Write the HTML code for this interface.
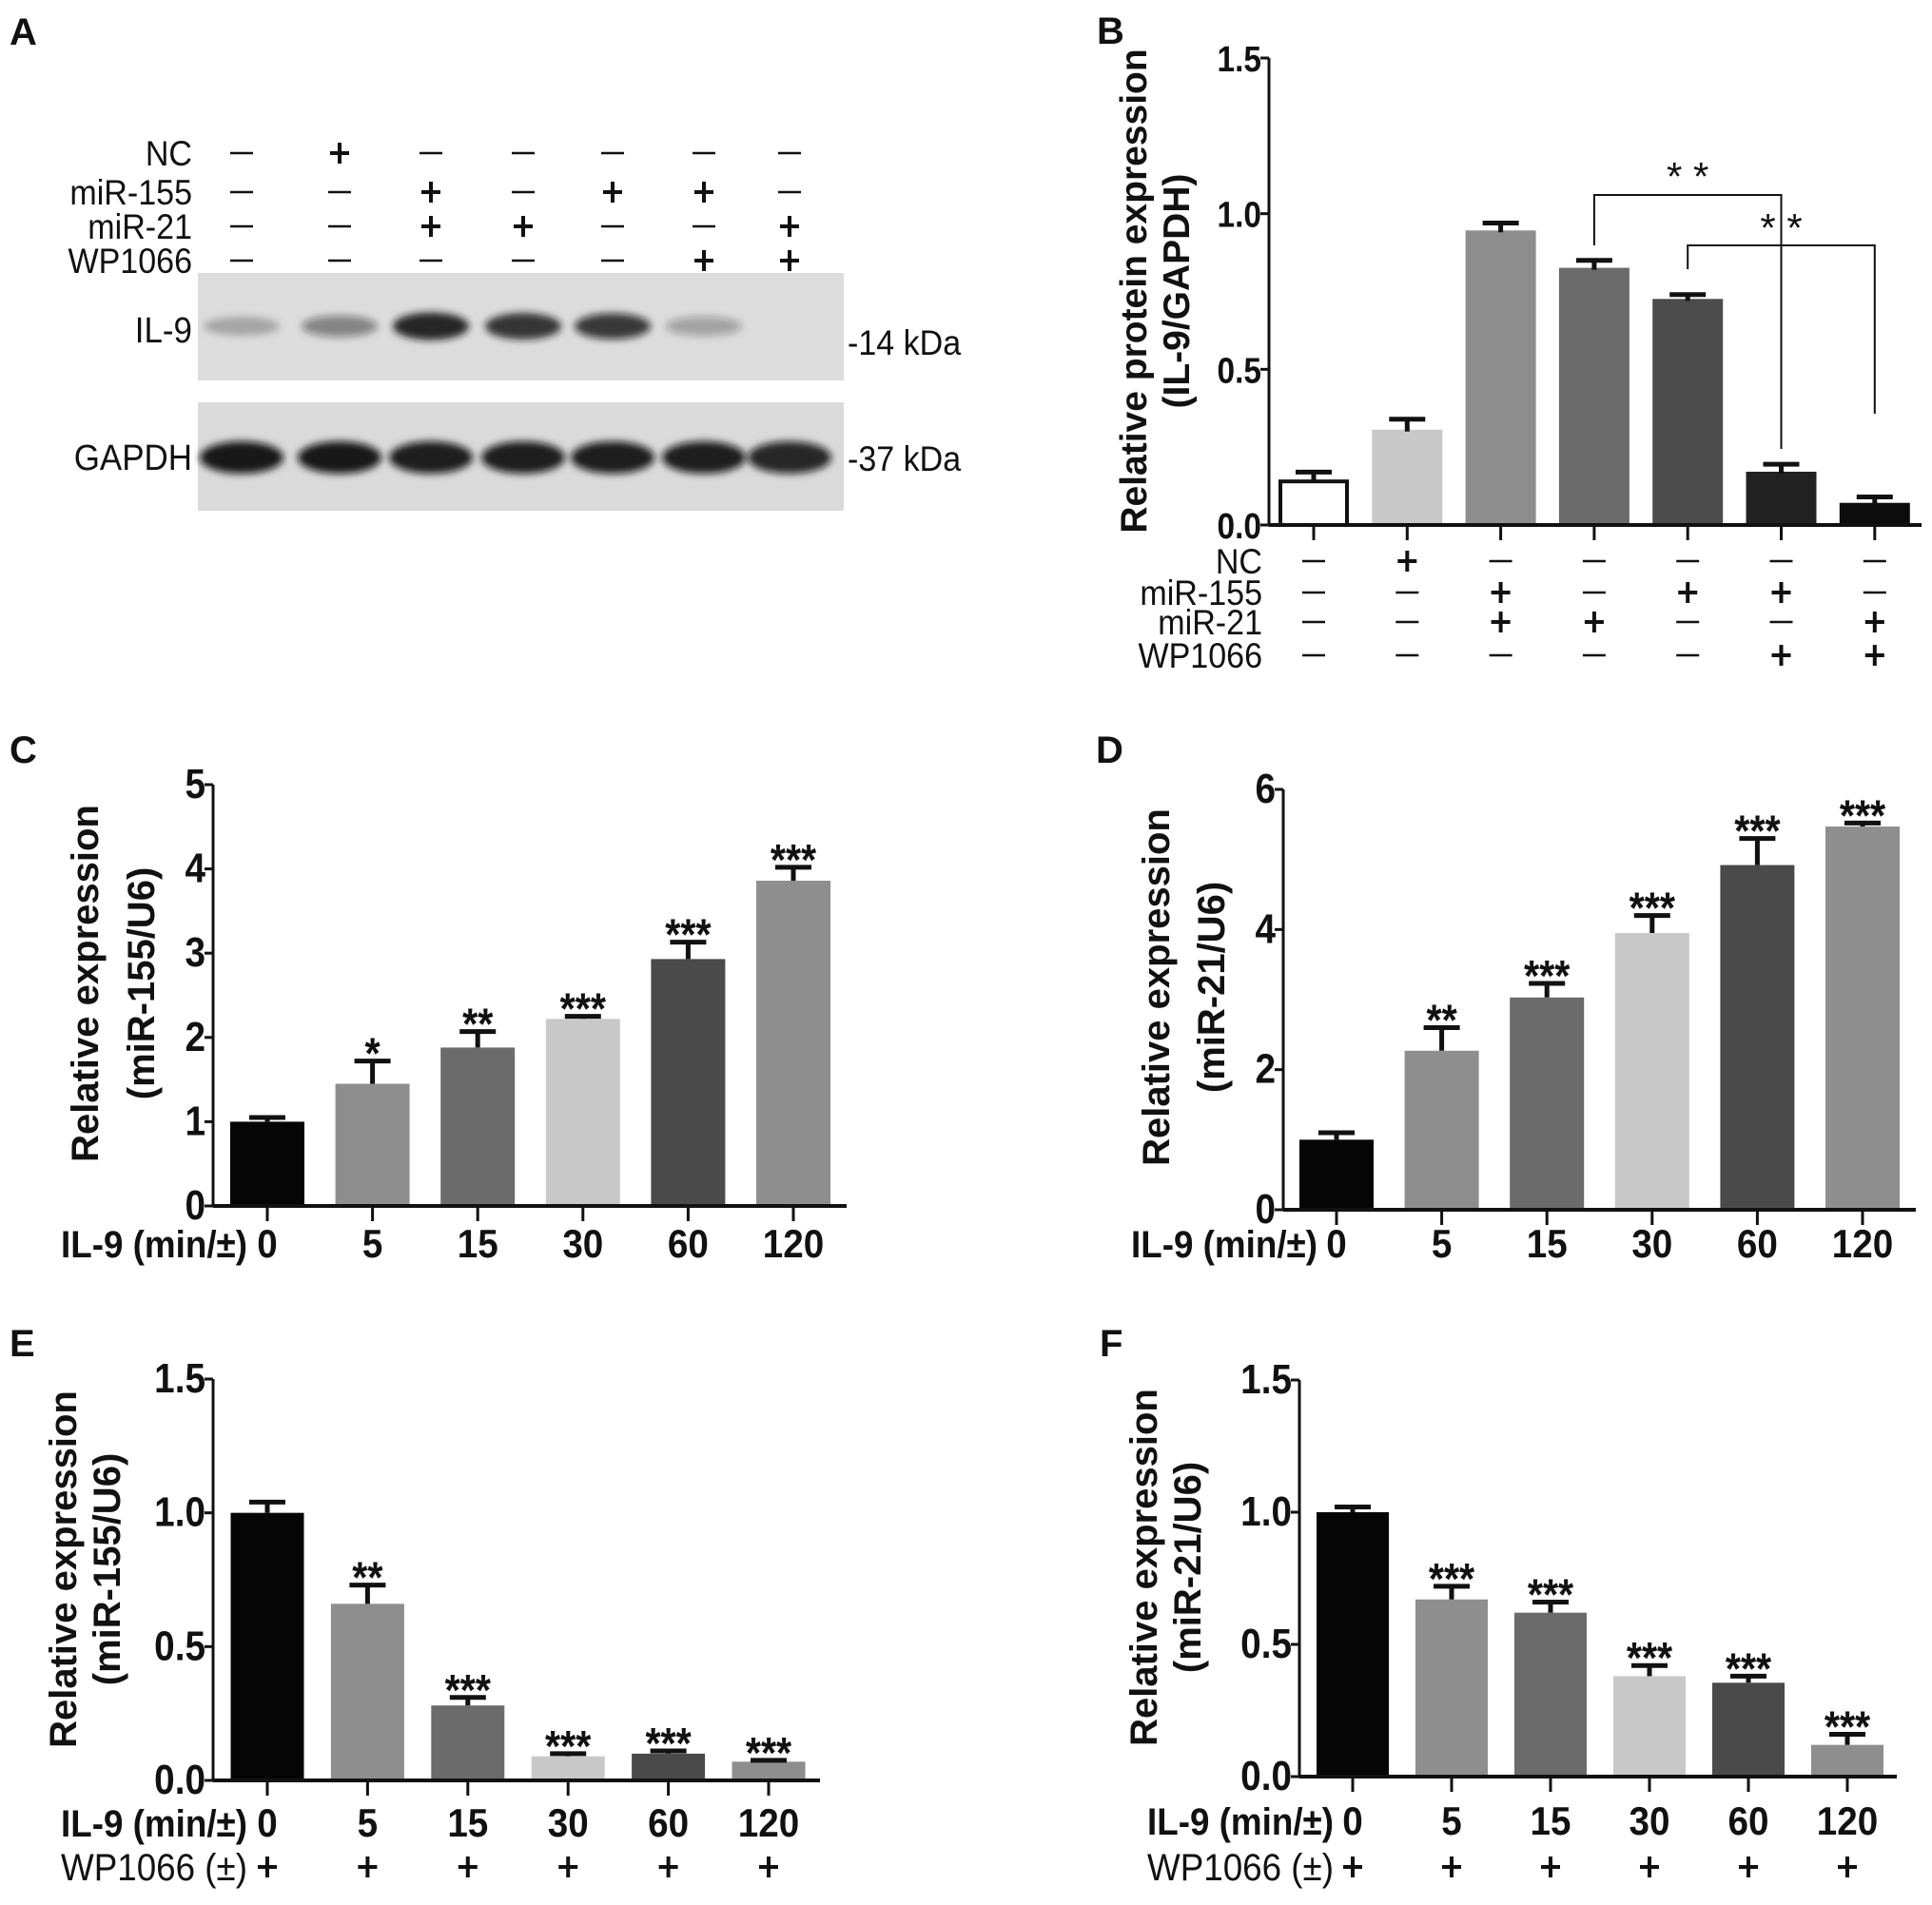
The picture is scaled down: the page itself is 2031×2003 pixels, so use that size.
<!DOCTYPE html>
<html><head><meta charset="utf-8"><style>
html,body{margin:0;padding:0;background:#fff;}
svg{display:block;}
text{font-family:"Liberation Sans",Arial,sans-serif;fill:#111;}
</style></head><body>
<svg id="fig" width="2031" height="2003" viewBox="0 0 2031 2003" xmlns="http://www.w3.org/2000/svg">
<defs><filter id="blur" x="-30%" y="-60%" width="160%" height="220%"><feGaussianBlur stdDeviation="4"/></filter></defs>
</svg>
<script>
// ---------- data ----------
const laneConds = ["NC","miR-155","miR-21","WP1066"];
const condNC     = ["-","+","-","-","-","-","-"];
const condM155   = ["-","-","+","-","+","+","-"];
const condM21    = ["-","-","+","+","-","-","+"];
const condWP     = ["-","-","-","-","-","+","+"];
const il9Band    = [0.25,0.45,0.92,0.85,0.8,0.3,0];
const gapdhBand  = [0.95,0.95,0.92,0.92,0.92,0.92,0.88];

const bValues = [0.14,0.30,0.94,0.82,0.72,0.165,0.065];
const bErr    = [0.03,0.04,0.03,0.03,0.02,0.03,0.025];
const bTicks  = [0,0.5,1.0,1.5];
const bTickLabels = ["0.0","0.5","1.0","1.5"];

const timeCats = ["0","5","15","30","60","120"];
const cValues = [1.0,1.45,1.88,2.22,2.93,3.86];
const cErr    = [0.05,0.27,0.19,0.03,0.2,0.16];
const cStars  = ["","*","**","***","***","***"];
const cTicks  = [0,1,2,3,4,5];
const cTickLabels = ["0","1","2","3","4","5"];

const dValues = [1.0,2.27,3.03,3.95,4.92,5.47];
const dErr    = [0.1,0.33,0.2,0.25,0.38,0.05];
const dStars  = ["","**","***","***","***","***"];
const dTicks  = [0,2,4,6];
const dTickLabels = ["0","2","4","6"];

const eValues = [1.0,0.66,0.28,0.09,0.10,0.07];
const eErr    = [0.04,0.07,0.03,0.01,0.01,0.005];
const eStars  = ["","**","***","***","***","***"];
const fValues = [1.0,0.67,0.62,0.38,0.355,0.12];
const fErr    = [0.02,0.05,0.04,0.04,0.025,0.04];
const fStars  = ["","***","***","***","***","***"];
const efTicks = [0,0.5,1.0,1.5];
const efTickLabels = ["0.0","0.5","1.0","1.5"];

const NS = "http://www.w3.org/2000/svg";
const svg = document.getElementById('fig');
function el(tag, attrs, parent){ const e=document.createElementNS(NS,tag); for(const k in attrs) e.setAttribute(k,attrs[k]); (parent||svg).appendChild(e); return e; }
function txt(x,y,s,size,anchor,parent,opts){
  opts=opts||{};
  const sx = opts.sx||0.9;
  const t = el('text',{transform:`translate(${x},${y}) scale(${sx},1)`,'font-size':size,'font-weight':opts.weight||'bold','text-anchor':anchor||'start'},parent);
  t.textContent=s; return t;
}
function sign(x,y,s,parent){
  if(s==="+"){ el('line',{x1:x-10,y1:y,x2:x+10,y2:y,stroke:'#111','stroke-width':4},parent); el('line',{x1:x,y1:y-11,x2:x,y2:y+11,stroke:'#111','stroke-width':4},parent); }
  else { el('line',{x1:x-12,y1:y,x2:x+12,y2:y,stroke:'#111','stroke-width':2.5},parent); }
}

// ---------- Panel A ----------
const gA = el('g',{});  
const la = txt(10,47,"A",40,'start',gA,{sx:1});  
const laneX = [254,357,453,550,644,740,830];
const rowY = [161,202,238,274];
const conds = [condNC,condM155,condM21,condWP];
conds.forEach((arr,r)=>{
  const lt = txt(202,rowY[r]+13,laneConds[r],37,'end',gA,{weight:'normal',sx:0.92});
   
  arr.forEach((s,i)=>sign(laneX[i],rowY[r],s,gA));
});
el('rect',{x:208,y:287,width:679,height:113,fill:'#dcdcdc'},gA);
el('rect',{x:208,y:423,width:679,height:114,fill:'#dadada'},gA);
txt(202,360,"IL-9",38,'end',gA,{weight:'normal',sx:0.92});
txt(202,494,"GAPDH",38,'end',gA,{weight:'normal',sx:0.92});
txt(891,373,"-14 kDa",37,'start',gA,{weight:'normal',sx:0.92});
txt(891,495,"-37 kDa",37,'start',gA,{weight:'normal',sx:0.92});
laneX.forEach((x,i)=>{
  const v=il9Band[i]; if(v>0){ const b=el('ellipse',{cx:x,cy:343,rx:40,ry:8+7*v,fill:`rgba(20,20,20,${v})`,filter:'url(#blur)'},gA);   }
  const g=gapdhBand[i]; const b2=el('ellipse',{cx:x,cy:481,rx:44,ry:17,fill:`rgba(15,15,15,${g})`,filter:'url(#blur)'},gA);
   
});

// ---------- Bar chart helper ----------
function barChart(c){
  const g = el('g',{});  
  const ymax = c.ticks[c.ticks.length-1];
  const Y = v => c.y0 - (v/ymax)*(c.y0-c.ytop);
  const X = i => c.x1 + c.firstOffset + i*c.step;
  const pl = txt(c.label[0],c.label[1],c.label[2],40,'start',g,{sx:1});  
  c.values.forEach((v,i)=>{
    const x=X(i), top=Y(v);
    const col=c.colors[i];
    const b=el('rect',{x:x-c.bw/2,y:top,width:c.bw,height:c.y0-top,fill:col,stroke:c.stroke?c.stroke[i]:col,'stroke-width':c.stroke?4:0},g);
     
    const et=Y(v+c.err[i]);
    const eb=el('path',{d:`M${x},${top} V${et} M${x-19},${et} H${x+19}`,stroke:'#111','stroke-width':5,fill:'none'},g);
     
    if(c.stars && c.stars[i]){ const s=txt(x,et+8,c.stars[i],46,'middle',g,{sx:0.9});   }
    el('line',{x1:x,y1:c.y0,x2:x,y2:c.y0+16,stroke:'#111','stroke-width':3},g);
  });
  const ya=el('line',{x1:c.x1,y1:c.ytop,x2:c.x1,y2:c.y0,stroke:'#111','stroke-width':3},g);  
  const xa=el('line',{x1:c.x1,y1:c.y0,x2:c.x2,y2:c.y0,stroke:'#111','stroke-width':4},g);  
  c.ticks.forEach((t,i)=>{
    const y=Y(t);
    el('line',{x1:c.x1-9,y1:y,x2:c.x1,y2:y,stroke:'#111','stroke-width':3},g);
    const tl=txt(c.x1-8,y+14,c.tickLabels[i],c.tickSize,'end',g,{sx:0.88});  
  });
  const t1=el('text',{transform:`translate(${c.titleX[0]},${c.titleCY}) rotate(-90)`,'font-size':c.titleSize,'font-weight':'bold','text-anchor':'middle'},g);
  t1.textContent=c.title[0];  
  const t2=el('text',{transform:`translate(${c.titleX[1]},${c.titleCY}) rotate(-90)`,'font-size':c.titleSize,'font-weight':'bold','text-anchor':'middle'},g);
  t2.textContent=c.title[1];  
  if(c.cats){
    const rl=txt(c.x1+36,c.catY+14,"IL-9 (min/±)",40,'end',g,{sx:0.92});  
    c.cats.forEach((s,i)=>{ const ct=txt(X(i),c.catY+14,s,42,'middle',g,{sx:0.92});   });
    if(c.wpY){
      const wl=txt(c.x1+36,c.wpY+14,"WP1066 (±)",40,'end',g,{weight:'normal',sx:0.92});  
      c.cats.forEach((s,i)=>sign(X(i),c.wpY,"+",g));
    }
  }
  return {g,X,Y};
}

// ---------- Panel B ----------
const B = barChart({name:'panel-b-chart',x1:1334,x2:2020,y0:552,ytop:61,firstOffset:47,step:98.3,bw:70,
  values:bValues,err:bErr,ticks:bTicks,tickLabels:bTickLabels,tickSize:38,
  colors:['#ffffff','#c8c8c8','#8e8e8e','#6b6b6b','#4c4c4c','#222222','#0c0c0c'],
  stroke:['#111','#c8c8c8','#8e8e8e','#6b6b6b','#4c4c4c','#222222','#0c0c0c'],
  label:[1153,46,'B'],title:['Relative protein expression','(IL-9/GAPDH)'],titleX:[1205,1250],titleCY:306,titleSize:39});
const bRows=[590,623,654,689];
conds.forEach((arr,r)=>{
  const lt=txt(1327,bRows[r]+13,laneConds[r],37,'end',B.g,{weight:'normal',sx:0.92});  
  arr.forEach((s,i)=>sign(B.X(i),bRows[r],s,B.g));
});
const br1=el('path',{d:`M${B.X(3)},258 V205 H${B.X(5)} V472`,stroke:'#111','stroke-width':2,fill:'none'},B.g);
 
const br2=el('path',{d:`M${B.X(4)},283 V258 H${B.X(6)} V435`,stroke:'#111','stroke-width':2,fill:'none'},B.g);
 
txt((B.X(3)+B.X(5))/2,200,"* *",42,'middle',B.g,{weight:'normal',sx:1});
txt((B.X(4)+B.X(6))/2,254,"* *",42,'middle',B.g,{weight:'normal',sx:1});

// ---------- Panel C ----------
barChart({name:'panel-c-chart',x1:224,x2:890,y0:1268,ytop:825,firstOffset:57,step:110.6,bw:78,
  values:cValues,err:cErr,stars:cStars,ticks:cTicks,tickLabels:cTickLabels,tickSize:44,
  colors:['#050505','#8e8e8e','#6b6b6b','#c8c8c8','#4a4a4a','#8e8e8e'],
  label:[10,802,'C'],title:['Relative expression','(miR-155/U6)'],titleX:[103,162],titleCY:1034,titleSize:40,
  cats:timeCats,catY:1308});

// ---------- Panel D ----------
barChart({name:'panel-d-chart',x1:1349,x2:2014,y0:1272,ytop:830,firstOffset:56,step:110.6,bw:78,
  values:dValues,err:dErr,stars:dStars,ticks:dTicks,tickLabels:dTickLabels,tickSize:44,
  colors:['#050505','#8e8e8e','#6b6b6b','#c8c8c8','#4a4a4a','#8e8e8e'],
  label:[1152,802,'D'],title:['Relative expression','(miR-21/U6)'],titleX:[1229,1287],titleCY:1038,titleSize:40,
  cats:timeCats,catY:1308});

// ---------- Panel E ----------
barChart({name:'panel-e-chart',x1:224,x2:862,y0:1872,ytop:1450,firstOffset:57,step:105.4,bw:77,
  values:eValues,err:eErr,stars:eStars,ticks:efTicks,tickLabels:efTickLabels,tickSize:44,
  colors:['#050505','#8e8e8e','#6b6b6b','#c8c8c8','#4a4a4a','#8e8e8e'],
  label:[10,1426,'E'],title:['Relative expression','(miR-155/U6)'],titleX:[80,126],titleCY:1650,titleSize:40,
  cats:timeCats,catY:1917,wpY:1963});

// ---------- Panel F ----------
barChart({name:'panel-f-chart',x1:1366,x2:1994,y0:1868,ytop:1451,firstOffset:56,step:104,bw:76,
  values:fValues,err:fErr,stars:fStars,ticks:efTicks,tickLabels:efTickLabels,tickSize:44,
  colors:['#050505','#8e8e8e','#6b6b6b','#c8c8c8','#4a4a4a','#8e8e8e'],
  label:[1156,1426,'F'],title:['Relative expression','(miR-21/U6)'],titleX:[1216,1262],titleCY:1648,titleSize:40,
  cats:timeCats,catY:1915,wpY:1963});
</script>
</body></html>
